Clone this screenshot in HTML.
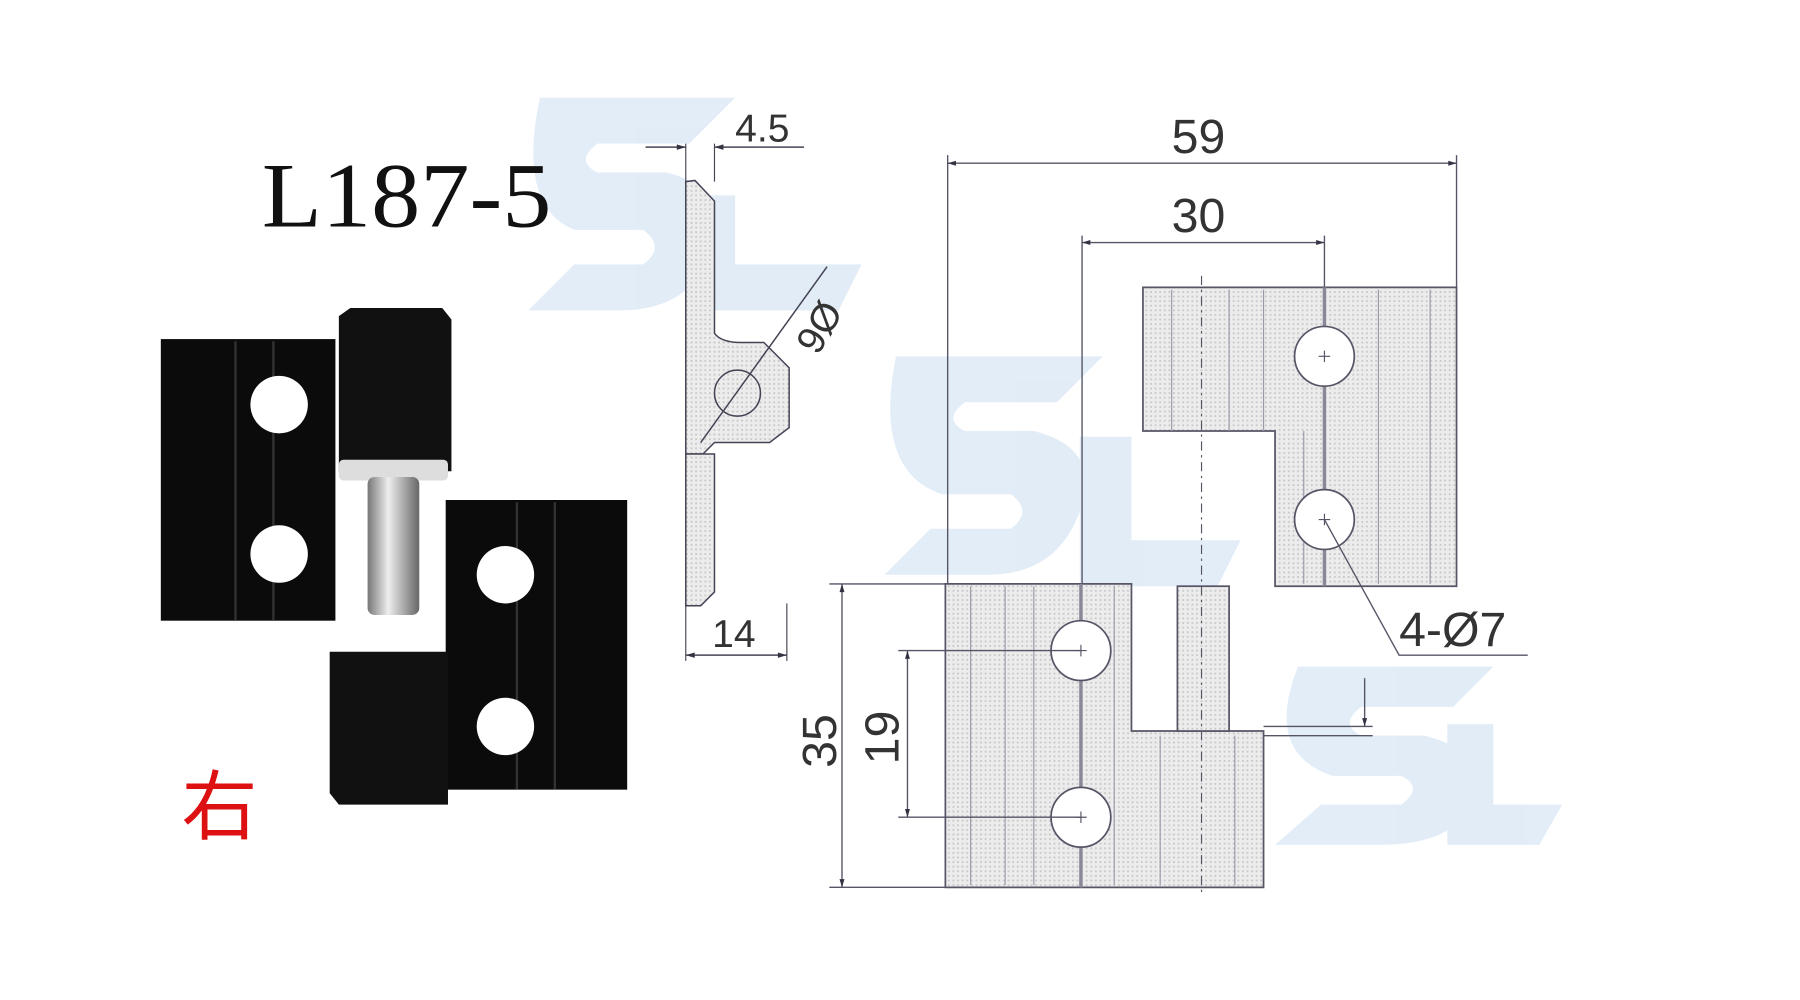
<!DOCTYPE html>
<html><head><meta charset="utf-8"><style>html,body{margin:0;padding:0;background:#fff;}svg{display:block}</style></head>
<body>
<svg width="1800" height="1000" viewBox="0 0 1567 870" preserveAspectRatio="none" xmlns="http://www.w3.org/2000/svg">
<defs>
<pattern id="dots" width="4" height="4" patternUnits="userSpaceOnUse"><rect width="4" height="4" fill="#ececec"/><circle cx="2" cy="2" r="0.9" fill="#c8c8c8"/></pattern>
<linearGradient id="pin" x1="0" x2="1"><stop offset="0" stop-color="#777"/><stop offset="0.4" stop-color="#eee"/><stop offset="1" stop-color="#666"/></linearGradient>
<marker id="ar" viewBox="0 0 10 10" refX="10" refY="5" markerWidth="8" markerHeight="6" orient="auto-start-reverse"><path d="M0,2 L10,5 L0,8z" fill="#334"/></marker>
</defs>
<rect width="1600" height="900" fill="#fff"/>
<g opacity="0.3" fill="#9ec3e6">
<path d="M470,85 L640,85 L600,125 L520,125 Q500,140 520,150 L580,150 Q640,165 620,220 Q600,270 540,270 L460,270 L500,230 L560,230 Q580,215 560,200 L500,200 Q450,180 470,85z"/>
<path d="M600,170 L640,170 L640,230 L750,230 L730,270 L600,270z"/>
<path d="M780,310 L960,310 L920,350 L840,350 Q820,365 840,375 L900,375 Q960,390 940,445 Q920,500 860,500 L770,500 L810,460 L880,460 Q900,445 880,430 L820,430 Q760,410 780,310z"/>
<path d="M940,380 L985,380 L985,470 L1080,470 L1060,510 L940,510z"/>
<path d="M1130,580 L1300,580 L1265,615 L1185,615 Q1165,630 1185,640 L1240,640 Q1300,655 1280,700 Q1265,735 1200,735 L1110,735 L1150,700 L1220,700 Q1240,685 1220,675 L1160,675 Q1100,655 1130,580z"/>
<path d="M1260,630 L1300,630 L1300,700 L1360,700 L1340,735 L1260,735z"/>
</g>
<text x="228" y="197" font-family="Liberation Serif, serif" font-size="80" textLength="252" lengthAdjust="spacingAndGlyphs" fill="#111">L187-5</text>
<rect x="140" y="295" width="152" height="245" fill="#0b0b0b"/>
<line x1="205" y1="297" x2="205" y2="540" stroke="#333" stroke-width="2"/><line x1="238" y1="297" x2="238" y2="540" stroke="#333" stroke-width="2"/>
<circle cx="243" cy="352" r="25" fill="#fff"/><circle cx="243" cy="482" r="25" fill="#fff"/>
<path d="M295,275 L305,268 L385,268 L393,278 L393,410 L295,410z" fill="#111"/>
<rect x="295" y="400" width="95" height="18" fill="#ddd" rx="4"/>
<rect x="320" y="415" width="45" height="120" fill="url(#pin)" rx="6"/>
<rect x="388" y="435" width="158" height="252" fill="#0b0b0b"/>
<line x1="450" y1="437" x2="450" y2="687" stroke="#333" stroke-width="2"/><line x1="483" y1="437" x2="483" y2="687" stroke="#333" stroke-width="2"/>
<circle cx="440" cy="500" r="25" fill="#fff"/><circle cx="440" cy="632" r="25" fill="#fff"/>
<path d="M287,567 L390,567 L390,700 L295,700 L287,690z" fill="#111"/>
<text x="158" y="725" font-family="Liberation Sans, Noto Sans CJK SC, sans-serif" font-size="66" fill="#d11">右</text>
<g stroke="#445" stroke-width="1.3">
<path d="M597,158 L605,157 L622,175 L622,290 Q628,298 645,298 L665,298 L687,320 L687,372 L670,385 L622,385 L612,395 L597,395z" fill="url(#dots)"/>
<path d="M597,395 L622,395 L622,515 L610,527 L597,527z" fill="url(#dots)"/>
<circle cx="642" cy="342" r="20" fill="none"/>
<line x1="610" y1="385" x2="720" y2="232"/>
<line x1="597" y1="125" x2="597" y2="575" stroke-width="1"/><line x1="622" y1="125" x2="622" y2="158" stroke-width="1"/>
<line x1="685" y1="525" x2="685" y2="575" stroke-width="1"/>
<line x1="562" y1="128" x2="597" y2="128" marker-end="url(#ar)"/><line x1="660" y1="128" x2="622" y2="128" marker-end="url(#ar)"/><line x1="660" y1="128" x2="700" y2="128"/>
<line x1="597" y1="570" x2="685" y2="570" marker-start="url(#ar)" marker-end="url(#ar)"/>
</g>
<text x="640" y="123" font-family="Liberation Sans, sans-serif" font-size="34" fill="#333">4.5</text>
<text x="620" y="563" font-family="Liberation Sans, sans-serif" font-size="34" fill="#333">14</text>
<text x="0" y="0" font-family="Liberation Sans, sans-serif" font-size="34" fill="#333" transform="translate(712,310) rotate(-60)">9Ø</text>
<g stroke="#556" stroke-width="1.5">
<path d="M995,250 L1268,250 L1268,510 L1110,510 L1110,375 L995,375z" fill="url(#dots)"/>
<path d="M823,508 L985,508 L985,636 L1100,636 L1100,772 L823,772z" fill="url(#dots)"/>
<rect x="1025" y="510" width="45" height="126" fill="url(#dots)"/>
<g stroke-width="1" stroke="#99a">
<line x1="1020" y1="252" x2="1020" y2="375"/><line x1="1070" y1="252" x2="1070" y2="375"/><line x1="1100" y1="252" x2="1100" y2="375"/><line x1="1200" y1="252" x2="1200" y2="508"/><line x1="1245" y1="252" x2="1245" y2="508"/><line x1="1135" y1="375" x2="1135" y2="508"/>
<line x1="845" y1="510" x2="845" y2="770"/><line x1="875" y1="510" x2="875" y2="770"/><line x1="900" y1="510" x2="900" y2="770"/><line x1="970" y1="510" x2="970" y2="770"/><line x1="1010" y1="640" x2="1010" y2="770"/><line x1="1075" y1="640" x2="1075" y2="770"/>
</g>
<line x1="1153" y1="250" x2="1153" y2="510" stroke-width="3" stroke="#889"/>
<line x1="941" y1="508" x2="941" y2="772" stroke-width="3" stroke="#889"/>
<line x1="1046" y1="240" x2="1046" y2="780" stroke-dasharray="8,4,2,4" stroke-width="1"/>
<circle cx="1153" cy="310" r="26" fill="#fff"/><circle cx="1153" cy="452" r="26" fill="#fff"/>
<circle cx="941" cy="566" r="26" fill="#fff"/><circle cx="941" cy="711" r="26" fill="#fff"/>
<g stroke-width="1"><path d="M1148,310h10M1153,305v10M1148,452h10M1153,447v10M936,566h10M941,561v10M936,711h10M941,706v10"/></g>
<g stroke-width="1.2">
<line x1="825" y1="135" x2="825" y2="508"/><line x1="1268" y1="135" x2="1268" y2="250"/>
<line x1="825" y1="142" x2="1268" y2="142" marker-start="url(#ar)" marker-end="url(#ar)"/>
<line x1="942" y1="205" x2="942" y2="508"/><line x1="1153" y1="205" x2="1153" y2="250"/>
<line x1="942" y1="211" x2="1153" y2="211" marker-start="url(#ar)" marker-end="url(#ar)"/>
<line x1="722" y1="508" x2="823" y2="508"/><line x1="722" y1="772" x2="823" y2="772"/>
<line x1="733" y1="508" x2="733" y2="772" marker-start="url(#ar)" marker-end="url(#ar)"/>
<line x1="782" y1="566" x2="941" y2="566"/><line x1="782" y1="711" x2="941" y2="711"/>
<line x1="790" y1="566" x2="790" y2="711" marker-start="url(#ar)" marker-end="url(#ar)"/>
<line x1="1100" y1="632" x2="1195" y2="632"/><line x1="1100" y1="640" x2="1195" y2="640"/>
<line x1="1188" y1="590" x2="1188" y2="632" marker-end="url(#ar)"/>
<polyline points="1153,452 1218,570 1330,570" fill="none"/>
</g>
</g>
<g font-family="Liberation Sans, sans-serif" font-size="42" fill="#333">
<text x="1020" y="133">59</text>
<text x="1020" y="202">30</text>
<text x="1218" y="562">4-Ø7</text>
<text transform="translate(728,668) rotate(-90)">35</text>
<text transform="translate(782,665) rotate(-90)">19</text>
</g>
</svg>
</body></html>
